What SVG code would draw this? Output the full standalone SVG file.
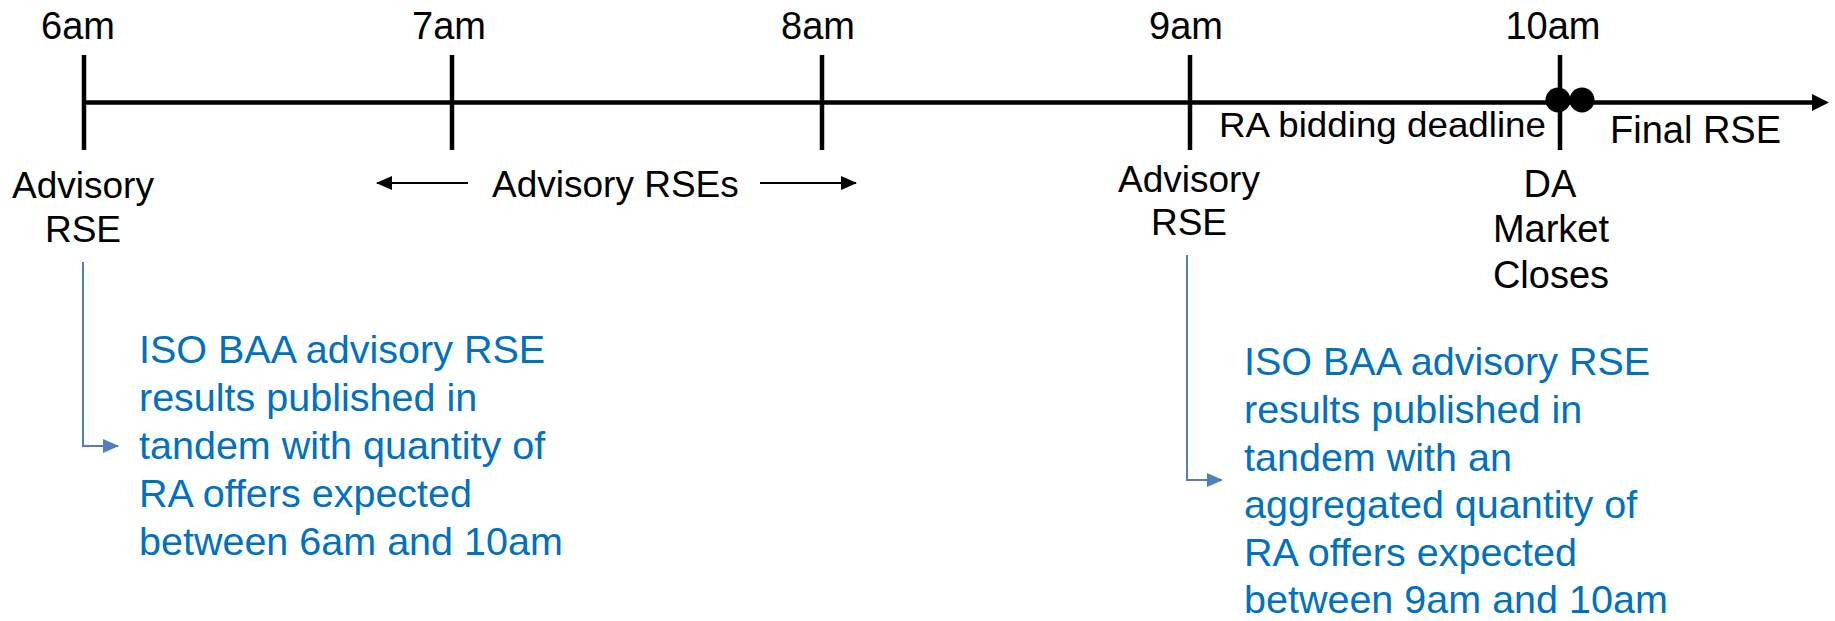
<svg xmlns="http://www.w3.org/2000/svg" width="1835" height="621" viewBox="0 0 1835 621">
<style>
.t{font-family:"Liberation Sans",Arial,sans-serif;font-size:38px;fill:#000}
.c{text-anchor:middle}
.b{font-family:"Liberation Sans",Arial,sans-serif;font-size:39.5px;fill:#0070C0}
.axis{stroke:#000;stroke-width:4.5;fill:none}
.thin{stroke:#000;stroke-width:2;fill:none}
.blue{stroke:#4F7FBD;stroke-width:2;fill:none}
</style>
<defs>
<marker id="ah" markerWidth="16" markerHeight="14" refX="15" refY="7" orient="auto" markerUnits="userSpaceOnUse"><path d="M0,0 L16,7 L0,14 Z" fill="#000"/></marker>
<marker id="bh" markerWidth="16" markerHeight="14" refX="15" refY="7" orient="auto" markerUnits="userSpaceOnUse"><path d="M0,0 L16,7 L0,14 Z" fill="#4F7FBD"/></marker>
</defs>
<rect width="1835" height="621" fill="#fff"/>
<g id="connectors">
<path class="axis" d="M84,102.5 H1815"/>
<path d="M1812,94 L1829,102.5 L1812,111 Z" fill="#000"/>
<path class="thin" d="M468,183 H377" marker-end="url(#ah)"/>
<path class="thin" d="M760,183 H856" marker-end="url(#ah)"/>
<path class="blue" d="M83,262 V446 H118" marker-end="url(#bh)"/>
<path class="blue" d="M1187,255 V480 H1222" marker-end="url(#bh)"/>
</g>
<g id="t6">
<line class="axis" x1="84" y1="55" x2="84" y2="150"/>
<text class="t c" x="78" y="39">6am</text>
<text class="t c" x="83" y="198" style="font-size:37px">Advisory</text>
<text class="t c" x="83" y="242" style="font-size:37px">RSE</text>
</g>
<g id="t7">
<line class="axis" x1="452" y1="55" x2="452" y2="150"/>
<text class="t c" x="449" y="39">7am</text>
</g>
<g id="t8">
<line class="axis" x1="822" y1="55" x2="822" y2="150"/>
<text class="t c" x="818" y="39">8am</text>
</g>
<g id="advisory-rses">
<text class="t" x="492" y="197" style="font-size:37px">Advisory RSEs</text>
</g>
<g id="t9">
<line class="axis" x1="1190" y1="55" x2="1190" y2="150"/>
<text class="t c" x="1186" y="39">9am</text>
<text class="t c" x="1189" y="192" style="font-size:37px">Advisory</text>
<text class="t c" x="1189" y="235" style="font-size:37px">RSE</text>
</g>
<g id="deadline">
<text class="t" x="1219" y="137" style="font-size:35px" textLength="327" lengthAdjust="spacingAndGlyphs">RA bidding deadline</text>
</g>
<g id="t10">
<line class="axis" x1="1560" y1="55" x2="1560" y2="150"/>
<circle cx="1558" cy="100" r="12.5" fill="#000"/>
<circle cx="1582" cy="100" r="12.5" fill="#000"/>
<text class="t c" x="1553" y="39">10am</text>
<text class="t c" x="1550" y="197">DA</text>
<text class="t c" x="1551" y="242">Market</text>
<text class="t c" x="1551" y="288">Closes</text>
</g>
<g id="final">
<text class="t" x="1610" y="143">Final RSE</text>
</g>
<g id="note1">
<text class="b" x="139" y="363">ISO BAA advisory RSE</text>
<text class="b" x="139" y="411">results published in</text>
<text class="b" x="139" y="459">tandem with quantity of</text>
<text class="b" x="139" y="507">RA offers expected</text>
<text class="b" x="139" y="555">between 6am and 10am</text>
</g>
<g id="note2">
<text class="b" x="1244" y="375">ISO BAA advisory RSE</text>
<text class="b" x="1244" y="423">results published in</text>
<text class="b" x="1244" y="471">tandem with an</text>
<text class="b" x="1244" y="518">aggregated quantity of</text>
<text class="b" x="1244" y="566">RA offers expected</text>
<text class="b" x="1244" y="613">between 9am and 10am</text>
</g>
</svg>
